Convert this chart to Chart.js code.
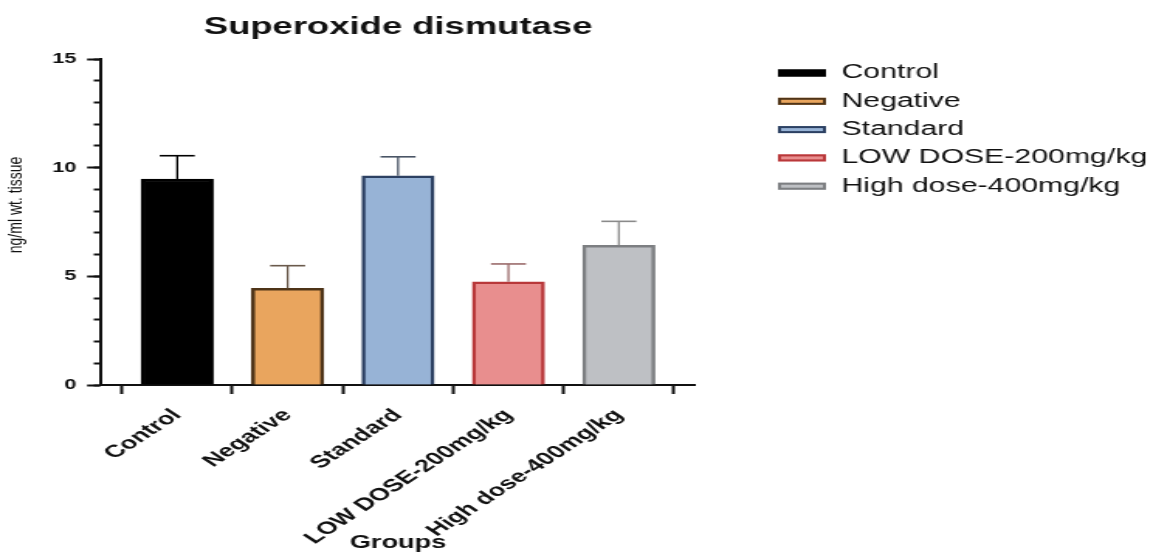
<!DOCTYPE html>
<html>
<head>
<meta charset="utf-8">
<title>Superoxide dismutase</title>
<script src="https://cdn.jsdelivr.net/npm/chart.js@4"></script>
<style>
  html, body { margin: 0; padding: 0; background: #ffffff; overflow: hidden; }
  /* the plot is laid out on a narrower canvas and widened horizontally */
  #wrap { width: 744px; height: 554px; transform: scaleX(1.5497); transform-origin: 0 0; }
  canvas { display: block; }
</style>
</head>
<body>
<div id="wrap"><canvas id="sod" width="744" height="554"></canvas></div>
<script>
// ---- data ----
const groups = ['Control', 'Negative', 'Standard', 'LOW DOSE-200mg/kg', 'High dose-400mg/kg'];
const meanValues = [9.48, 4.45, 9.63, 4.75, 6.43];
const errorValues = [1.07, 1.04, 0.87, 0.82, 1.10];
const yTicks = [0, 5, 10, 15];
const yMinorStep = 1;

// ---- styles ----
const fillColors = ['#000000', '#E9A55E', '#97B3D6', '#E88E8E', '#BEC0C4'];
const edgeColors = ['#000000', '#4E3418', '#2C4062', '#B8383A', '#7D7F82'];
const whiskerColors = ['#000000', '#6A5A4C', '#4A5566', '#9A6A6A', '#8A8A8A'];
const FONT = '"Liberation Sans", Arial, Helvetica, sans-serif';
const INK = '#111111';
const X_MIN = -0.69, X_MAX = 4.69;

Chart.defaults.font.family = FONT;
Chart.defaults.color = INK;

// upper error whiskers with caps
const errorBarPlugin = {
  id: 'errorBars',
  afterDatasetsDraw(chart) {
    const ctx = chart.ctx;
    const yScale = chart.scales.y;
    const meta = chart.getDatasetMeta(0);
    meta.data.forEach((bar, i) => {
      const x = bar.x;
      const yTop = yScale.getPixelForValue(meanValues[i]);
      const yErr = yScale.getPixelForValue(meanValues[i] + errorValues[i]);
      ctx.save();
      ctx.strokeStyle = whiskerColors[i];
      ctx.lineWidth = 1.3;
      ctx.beginPath();
      ctx.moveTo(x, yTop);
      ctx.lineTo(x, yErr);
      ctx.stroke();
      ctx.lineWidth = 1.6;
      ctx.beginPath();
      ctx.moveTo(x - 11.3, yErr);
      ctx.lineTo(x + 11.3, yErr);
      ctx.stroke();
      ctx.restore();
    });
  }
};

// legend listing the groups to the right of the plot
const sideLegendPlugin = {
  id: 'sideLegend',
  afterDraw(chart) {
    const ctx = chart.ctx;
    ctx.save();
    ctx.font = '19.5px ' + FONT;
    ctx.textBaseline = 'middle';
    ctx.textAlign = 'left';
    groups.forEach((name, i) => {
      const cy = 73 + i * 28.3;
      ctx.fillStyle = fillColors[i];
      ctx.fillRect(502, cy - 3.5, 31, 7);
      ctx.lineWidth = 2;
      ctx.strokeStyle = edgeColors[i];
      ctx.strokeRect(503, cy - 2.5, 29, 5);
      ctx.fillStyle = INK;
      ctx.fillText(name, 543, cy);
    });
    ctx.restore();
  }
};

// vertical axis caption, drawn a little narrower than the rest of the text
const yCaptionPlugin = {
  id: 'yCaption',
  afterDraw(chart) {
    const ctx = chart.ctx;
    ctx.save();
    ctx.translate(10.5, 205);
    ctx.scale(1 / 1.1, 1);
    ctx.rotate(-Math.PI / 2);
    ctx.font = '14px ' + FONT;
    ctx.fillStyle = INK;
    ctx.textAlign = 'center';
    ctx.textBaseline = 'middle';
    ctx.fillText('ng/ml wt. tissue', 0, 0);
    ctx.restore();
  }
};

new Chart(document.getElementById('sod'), {
  type: 'bar',
  data: {
    datasets: [{
      data: groups.map((g, i) => ({ x: i, y: meanValues[i] })),
      backgroundColor: fillColors,
      borderColor: edgeColors,
      borderWidth: 2.5,
      borderSkipped: 'start',
      barThickness: 46.5
    }]
  },
  options: {
    responsive: false,
    animation: false,
    devicePixelRatio: 1,
    layout: { padding: { left: 0, right: 295.5, top: 0, bottom: 0 } },
    plugins: {
      legend: { display: false },
      tooltip: { enabled: false },
      title: {
        display: true,
        text: 'Superoxide dismutase',
        fullSize: false,
        color: INK,
        font: { size: 23.5, weight: 'bold' },
        padding: { top: 13.5, bottom: 17.3 }
      }
    },
    scales: {
      x: {
        type: 'linear',
        min: X_MIN,
        max: X_MAX,
        offset: false,
        afterBuildTicks: (s) => { s.ticks = groups.map((g, i) => ({ value: i })); },
        afterFit: (s) => { s.height = 169; },
        ticks: {
          autoSkip: false,
          minRotation: 45,
          maxRotation: 45,
          padding: 11,
          color: INK,
          font: { size: 17.5, weight: 'bold' },
          callback: (v) => groups[v]
        },
        grid: { drawOnChartArea: false, drawTicks: true, tickLength: 9, tickWidth: 2, tickColor: INK },
        border: { display: true, color: INK, width: 2 },
        title: {
          display: true,
          text: 'Groups',
          color: INK,
          font: { size: 17.5, weight: 'bold' },
          padding: { top: 0, bottom: 0 }
        }
      },
      y: {
        min: 0,
        max: 15,
        afterBuildTicks: (s) => { s.ticks = yTicks.map((v) => ({ value: v })); },
        afterFit: (s) => { s.width = 65.2; },
        ticks: { padding: 7, color: INK, font: { size: 14, weight: 'bold' } },
        grid: { drawOnChartArea: false, tickLength: 9, tickWidth: 2, tickColor: INK },
        border: { display: true, color: INK, width: 2 }
      },
      yMinor: {
        axis: 'y',
        position: { x: X_MIN },
        min: 0,
        max: 15,
        ticks: { display: false, stepSize: yMinorStep },
        grid: { drawOnChartArea: false, tickLength: 4.5, tickWidth: 2, tickColor: INK },
        border: { display: false }
      }
    }
  },
  plugins: [errorBarPlugin, sideLegendPlugin, yCaptionPlugin]
});
</script>
</body>
</html>
